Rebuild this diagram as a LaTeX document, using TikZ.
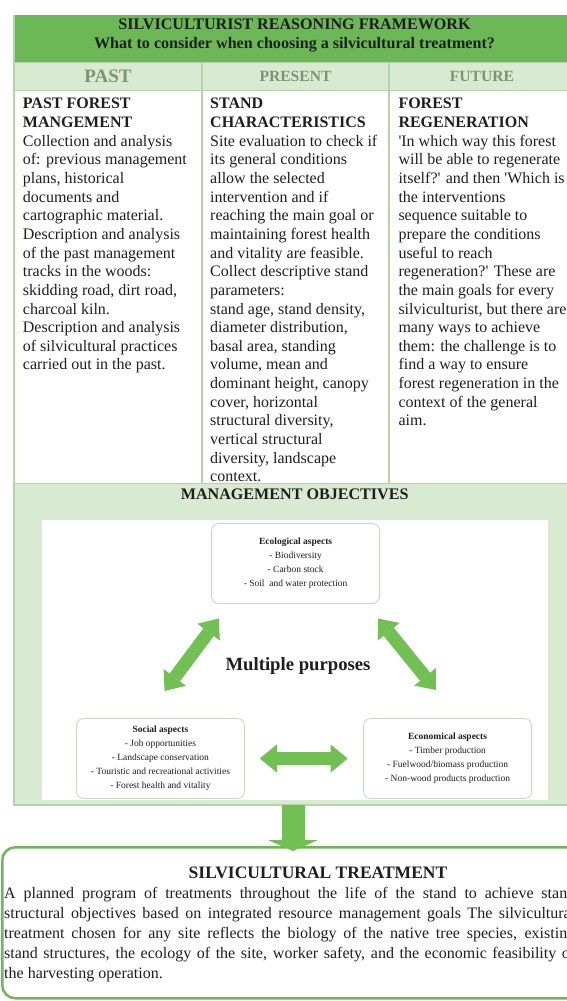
\documentclass[tikz,border=0pt]{standalone}
\usepackage{fontspec}
\setmainfont{Liberation Serif}
\usetikzlibrary{arrows.meta,positioning}

\definecolor{leafgreen}{RGB}{108,184,86}
\definecolor{palegreen}{RGB}{217,234,210}
\definecolor{rulegreen}{RGB}{178,212,166}
\definecolor{titlegreen}{RGB}{122,150,108}
\definecolor{arrowgreen}{RGB}{114,192,84}
\definecolor{boxgray}{RGB}{200,214,194}
\definecolor{inkgray}{RGB}{30,30,30}

\begin{document}
\begin{tikzpicture}[x=1pt,y=-1pt]
  \tikzset{HeadStyle/.style = {font=\bfseries\fontsize{16.1}{19}\selectfont,
                               text = inkgray, align = center, inner sep = 0pt}}
  \tikzset{TenseStyle/.style = {font=\bfseries\fontsize{15.6}{18}\selectfont,
                               text = titlegreen, inner sep = 0pt}}
  \tikzset{ColStyle/.style = {anchor = north west, align = left, inner sep = 0pt,
                              text = inkgray, font=\fontsize{16}{18.65}\selectfont}}
  \tikzset{AspectStyle/.style = {shape = rectangle, rounded corners = 7pt,
                                 draw = boxgray, line width = 0.8pt, fill = white,
                                 minimum width = 168pt, minimum height = 80pt,
                                 align = center, inner sep = 2pt, text = inkgray,
                                 font=\fontsize{9.5}{13.9}\selectfont}}
  \tikzset{BigArrow/.style = {arrowgreen, line width = 13pt,
     {Triangle[length=17pt,width=28pt,line width=0pt]}-{Triangle[length=17pt,width=28pt,line width=0pt]}}}
  \useasboundingbox (0,0) rectangle (567,1001);
  \clip (0,0) rectangle (567,1001);
  %%% HEADER %%%
  \fill[leafgreen] (14,15) rectangle (600,62);
  \node[HeadStyle] (title) at (294.5,35.5) {SILVICULTURIST REASONING FRAMEWORK\\
                                            What to consider when choosing a silvicultural treatment?};
  \fill[palegreen] (14,62) rectangle (600,90);
  \node[TenseStyle, font=\bfseries\fontsize{19}{20}\selectfont] (past) at (108,76.5) {PAST};
  \node[TenseStyle] (present) at (295.5,76.5) {PRESENT};
  \node[TenseStyle] (future) at (482,76.5) {FUTURE};
  %%% COLUMNS %%%
  \node[ColStyle] (pasttxt) at (22.7,98.1) {\textbf{PAST FOREST}\\\textbf{MANGEMENT}\\
    Collection and analysis\\of: previous management\\plans, historical\\documents and\\
    cartographic material.\\Description and analysis\\of the past management\\
    tracks in the woods:\\skidding road, dirt road,\\charcoal kiln.\\
    Description and analysis\\of silvicultural practices\\carried out in the past.};
  \node[ColStyle] (presenttxt) at (210,98.1) {\textbf{STAND}\\\textbf{CHARACTERISTICS}\\
    Site evaluation to check if\\its general conditions\\allow the selected\\
    intervention and if\\reaching the main goal or\\maintaining forest health\\
    and vitality are feasible.\\Collect descriptive stand\\parameters:\\
    stand age, stand density,\\diameter distribution,\\basal area, standing\\
    volume, mean and\\dominant height, canopy\\cover, horizontal\\
    structural diversity,\\vertical structural\\diversity, landscape\\context.};
  \node[ColStyle] (futuretxt) at (398.3,98.1) {\textbf{FOREST}\\\textbf{REGENERATION}\\
    \textquotesingle In which way this forest\\will be able to regenerate\\
    itself?\textquotesingle{} and then \textquotesingle Which is\\the interventions\\
    sequence suitable to\\prepare the conditions\\useful to reach\\
    regeneration?\textquotesingle{} These are\\the main goals for every\\
    silviculturist, but there are\\many ways to achieve\\them: the challenge is to\\
    find a way to ensure\\forest regeneration in the\\context of the general\\aim.};
  %%% MANAGEMENT OBJECTIVES %%%
  \fill[palegreen] (14,483) rectangle (600,805);
  \fill[white] (42,520) rectangle (548,800);
  \node[HeadStyle] (mgmt) at (294.7,494.5) {MANAGEMENT OBJECTIVES};
  % frame rules
  \draw[rulegreen, line width=1.3pt] (14,15) -- (14,805) -- (600,805);
  \draw[rulegreen, line width=1pt] (14,62) -- (600,62) (14,90) -- (600,90) (14,483) -- (600,483);
  \draw[rulegreen, line width=1.3pt] (202,62) -- (202,483) (389,62) -- (389,483);
  % the three aspects
  \node[AspectStyle] (eco) at (295.6,563.5) {\textbf{Ecological aspects}\\- Biodiversity\\
                                             - Carbon stock\\- Soil\ \ and water protection};
  \node[AspectStyle] (social) at (160.4,758.5) {\textbf{Social aspects}\\- Job opportunities\\
    - Landscape conservation\\- Touristic and recreational activities\\- Forest health and vitality};
  \node[AspectStyle] (econ) at (447.6,758.5) {\textbf{Economical aspects}\\- Timber production\\
    - Fuelwood/biomass production\\- Non-wood products production};
  \node[font=\bfseries\fontsize{18.7}{20}\selectfont, text=inkgray] (purpose) at (298,666) {Multiple purposes};
  \coordinate (l1) at (164.6,691);
  \coordinate (l2) at (218.8,618.5);
  \coordinate (r1) at (378,618.5);
  \coordinate (r2) at (435.8,690);
  \draw[BigArrow] (l1) -- (l2);
  \draw[BigArrow] (r1) -- (r2);
  \draw[BigArrow, shorten <=15pt, shorten >=15.5pt] (social.east) -- (econ.west);
  %%% TREATMENT %%%
  \coordinate (d1) at (293,805);
  \coordinate (d2) at (293,851);
  \node[draw=leafgreen, line width=2.5pt, rounded corners=13pt, anchor=north west,
        minimum width=640pt, minimum height=151pt] (treat) at (1,846) {};
  \draw[arrowgreen, line width=23pt, -{Triangle[length=11pt,width=50pt,line width=0pt]}] (d1) -- (d2);
  \node[font=\bfseries\fontsize{17.5}{19}\selectfont, text=inkgray, inner sep=0pt] (trtitle) at (318,873) {SILVICULTURAL TREATMENT};
  \node[anchor=north west, text width=571pt, align=justify, inner sep=0pt, text=inkgray,
        font=\fontsize{16}{20}\selectfont] (trdesc) at (4,887) {A planned program of treatments
    throughout the life of the stand to achieve stand\linebreak structural objectives based on
    integrated resource management goals The silvicultural\linebreak treatment chosen for any
    site reflects the biology of the native tree species, existing\linebreak stand structures,
    the ecology of the site, worker safety, and the economic feasibility of\linebreak the
    harvesting operation.};
\end{tikzpicture}
\end{document}
